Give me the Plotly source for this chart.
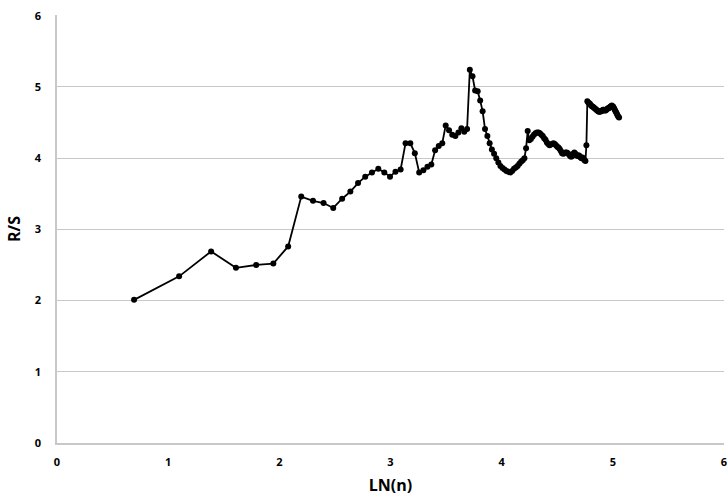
import numpy as np
import plotly.graph_objects as go

# Window sizes n used for the rescaled-range analysis
n_values = list(range(2, 158))

# Rescaled range R/S for each window size
rs_values = [
    2.01, 2.34, 2.69, 2.46, 2.50, 2.52, 2.76, 3.46,              # n = 2..9
    3.40, 3.37, 3.30, 3.43, 3.53, 3.65, 3.74, 3.80, 3.85, 3.80,  # n = 10..19
    3.74, 3.81, 3.84, 4.21, 4.21, 4.07, 3.80, 3.83, 3.88, 3.91,  # n = 20..29
    4.11, 4.17, 4.21, 4.46, 4.39, 4.33, 4.31, 4.36, 4.42, 4.37,  # n = 30..39
    4.41, 5.24, 5.15, 4.95, 4.94, 4.81, 4.66, 4.41, 4.31, 4.21,  # n = 40..49
    4.12, 4.06, 4.00, 3.94, 3.89, 3.86, 3.84, 3.82, 3.81, 3.80,  # n = 50..59
    3.82, 3.85, 3.87, 3.89, 3.92, 3.95, 3.97, 4.00, 4.14, 4.38,  # n = 60..69
    4.25, 4.27, 4.30, 4.33, 4.35, 4.36, 4.36, 4.35, 4.33, 4.31,  # n = 70..79
    4.28, 4.26, 4.22, 4.20, 4.18, 4.19, 4.20, 4.21, 4.20, 4.18,  # n = 80..89
    4.16, 4.15, 4.13, 4.10, 4.07, 4.06, 4.07, 4.08, 4.08, 4.07,  # n = 90..99
    4.05, 4.03, 4.02, 4.03, 4.06, 4.08, 4.06, 4.04, 4.03, 4.04,  # n = 100..109
    4.03, 4.01, 4.00, 4.01, 3.99, 3.97, 3.96, 4.18, 4.80, 4.78,  # n = 110..119
    4.77, 4.76, 4.74, 4.73, 4.72, 4.71, 4.70, 4.69, 4.68, 4.67,  # n = 120..129
    4.66, 4.65, 4.65, 4.66, 4.66, 4.67, 4.68, 4.68, 4.67, 4.67,  # n = 130..139
    4.68, 4.69, 4.70, 4.70, 4.71, 4.72, 4.73, 4.74, 4.73, 4.72,  # n = 140..149
    4.70, 4.68, 4.66, 4.64, 4.62, 4.60, 4.58, 4.57,              # n = 150..157
]
assert len(rs_values) == len(n_values)

x_ticks = [0, 1, 2, 3, 4, 5, 6]
y_ticks = [0, 1, 2, 3, 4, 5, 6]

ln_n = np.log(np.array(n_values, dtype=float))

fig = go.Figure(
    go.Scatter(
        x=ln_n,
        y=rs_values,
        mode="lines+markers",
        line=dict(color="black", width=1.8),
        marker=dict(color="black", size=6, symbol="circle"),
        showlegend=False,
    )
)

font_family = "Open Sans, Segoe UI, Arial, sans-serif"
grid_color = "#c8c8c8"

fig.update_layout(
    width=727,
    height=499,
    margin=dict(l=57, r=0, t=15, b=56),
    paper_bgcolor="white",
    plot_bgcolor="white",
    font=dict(family=font_family, color="black"),
    xaxis=dict(
        range=[0, 6],
        tickvals=x_ticks,
        ticktext=[f"<b>{v}</b>" for v in x_ticks],
        tickfont=dict(size=11),
        ticklabeloverflow="allow",
        showgrid=False,
        zeroline=False,
        showline=True,
        linecolor=grid_color,
        linewidth=1.5,
        ticks="",
        ticklabelstandoff=8,
        title=dict(text="<b>LN(n)</b>", font=dict(size=16), standoff=12),
    ),
    yaxis=dict(
        range=[0, 6.01],
        tickvals=y_ticks,
        ticktext=[f"<b>{v}</b>" for v in y_ticks],
        tickfont=dict(size=11),
        showgrid=True,
        gridcolor=grid_color,
        gridwidth=1.2,
        zeroline=False,
        showline=True,
        linecolor=grid_color,
        linewidth=1.5,
        ticks="",
        ticklabelstandoff=12,
        title=dict(text="<b>R/S</b>", font=dict(size=16), standoff=10),
    ),
)

fig.write_html("out.html")
